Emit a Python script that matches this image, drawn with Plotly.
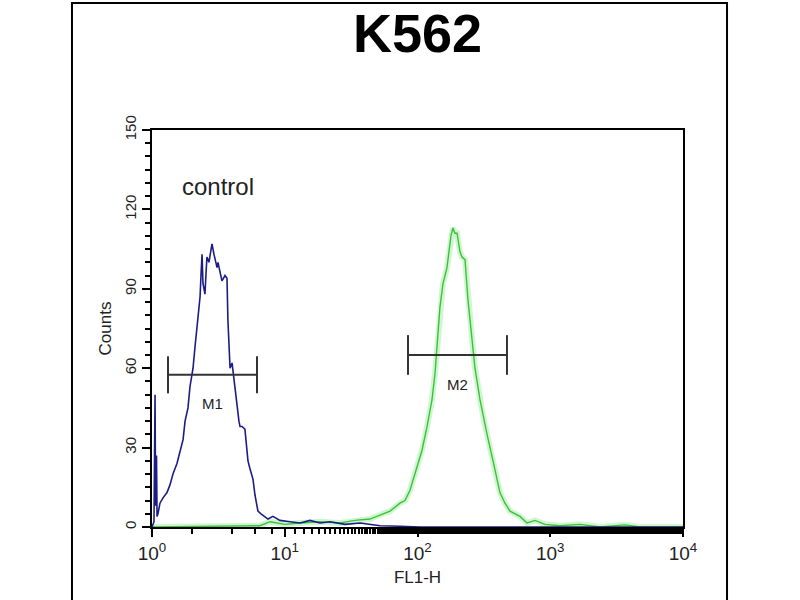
import numpy as np
import plotly.graph_objects as go

# ---- data (log10 of FL1-H channel, counts) ----
blue_log_fl1 = [0.0, 0.015, 0.023, 0.027, 0.030, 0.034, 0.038, 0.045, 0.060, 0.083, 0.113, 0.136, 0.158,
                0.188, 0.211, 0.234, 0.249, 0.271, 0.286, 0.309, 0.324, 0.339, 0.347, 0.362,
                0.369, 0.377, 0.384, 0.399, 0.407, 0.414, 0.429, 0.444, 0.452, 0.467, 0.475,
                0.490, 0.497, 0.512, 0.527, 0.550, 0.565, 0.572, 0.580, 0.588, 0.603, 0.610,
                0.625, 0.640, 0.655, 0.663, 0.678, 0.700, 0.708, 0.723, 0.738, 0.761, 0.776,
                0.798, 0.821, 0.836, 0.874, 0.911, 0.964, 1.040, 1.115, 1.190, 1.266, 1.341,
                1.454, 1.567, 1.718, 1.868, 2.02, 4.0]
blue_counts = [0, 2, 50, 8, 20, 27, 4, 5, 9, 11, 13, 16, 20,
               24, 28, 33, 40, 45, 53, 60, 68, 75, 81, 87,
               95, 103, 92, 88, 96, 102, 100, 105, 107, 103, 101,
               98, 100, 96, 93, 95, 94, 78, 70, 60, 62, 59,
               52, 45, 40, 38, 38, 37, 32, 25, 22, 18, 12,
               6, 5, 4.5, 3, 4, 2.5, 2, 1.5, 2.5, 1.5, 2,
               1, 1.5, 0.5, 0.3, 0, 0]

green_log_fl1 = [0.0, 0.814, 0.889, 1.002, 1.115, 1.266, 1.416, 1.529, 1.642, 1.740, 1.793,
                 1.868, 1.906, 1.944, 1.974, 1.996, 2.034, 2.072, 2.109, 2.132, 2.147, 2.169,
                 2.192, 2.222, 2.237, 2.252, 2.267, 2.282, 2.298, 2.320, 2.335, 2.358, 2.380,
                 2.411, 2.433, 2.471, 2.501, 2.524, 2.569, 2.621, 2.659, 2.697, 2.772, 2.825,
                 2.885, 2.960, 3.073, 3.224, 3.375, 3.563, 3.676, 4.0]
green_counts = [0, 0.5, 2, 1, 1.5, 2, 1.5, 2.5, 3, 5, 6,
                9, 10, 14, 19, 23, 29, 38, 48, 58, 67, 83,
                92, 98, 104, 110, 113, 111, 111, 104, 102, 101, 86,
                71, 60, 48, 40, 35, 25, 13, 9, 6, 4, 1.5,
                2.5, 1, 0.5, 1, 0, 0.8, 0, 0]

gate_names = ["M1", "M2"]
gate_lo = [1.32, 84.8]
gate_hi = [6.18, 472.0]
gate_level = [57.5, 65.0]
gate_cap = [7.0, 7.5]

y_ticks = [0, 30, 60, 90, 120, 150]
x_ticks = [1, 10, 100, 1000, 10000]
x_ticktext = ["10<sup>0</sup>", "10<sup>1</sup>", "10<sup>2</sup>", "10<sup>3</sup>", "10<sup>4</sup>"]

blue_x = [10 ** v for v in blue_log_fl1]
green_x = [10 ** v for v in green_log_fl1]

FONT = "Liberation Sans, Arial, sans-serif"

fig = go.Figure()

# green glow + line
fig.add_trace(go.Scatter(x=green_x, y=green_counts, mode="lines",
                         line=dict(color="rgba(150,235,150,0.45)", width=6),
                         hoverinfo="skip", showlegend=False))
fig.add_trace(go.Scatter(x=green_x, y=green_counts, mode="lines",
                         line=dict(color="#3cc03c", width=1.4), showlegend=False))
# blue control
fig.add_trace(go.Scatter(x=blue_x, y=blue_counts, mode="lines",
                         line=dict(color="#1c1c86", width=1.6), showlegend=False))

# gates
for name, lo, hi, lvl, cap in zip(gate_names, gate_lo, gate_hi, gate_level, gate_cap):
    fig.add_trace(go.Scatter(
        x=[lo, lo, None, lo, hi, None, hi, hi],
        y=[lvl - cap, lvl + cap, None, lvl, lvl, None, lvl - cap, lvl + cap],
        mode="lines", line=dict(color="#333333", width=2), showlegend=False))
    fig.add_annotation(x=(np.log10(lo) + np.log10(hi)) / 2, y=lvl - 11, text=name,
                       showarrow=False, font=dict(family=FONT, size=15, color="#222222"))

fig.add_annotation(x=np.log10(3.15), y=128.5, text="control", showarrow=False,
                   font=dict(family=FONT, size=24, color="#222222"))

# outer frame
fig.add_shape(type="rect", xref="paper", yref="paper", x0=-0.1507, x1=1.0829, y0=-0.25, y1=1.320,
              line=dict(color="black", width=2), layer="below")

fig.update_layout(
    width=800, height=600,
    margin=dict(l=152, r=117, t=130, b=73),
    paper_bgcolor="white", plot_bgcolor="white",
    title=dict(text="<b>K562</b>", x=0.5, xref="paper", xanchor="center", y=1 - 33 / 600, yanchor="middle",
               font=dict(family=FONT, size=54, color="black")),
    xaxis=dict(type="log", range=[0, 4], tickvals=x_ticks, ticktext=x_ticktext,
               ticks="outside", ticklen=8, tickwidth=2, tickcolor="black",
               minor=dict(ticks="outside", ticklen=5, tickwidth=2, tickcolor="black", showgrid=False),
               showline=True, linecolor="black", linewidth=2, mirror=True, showgrid=False, zeroline=False,
               tickfont=dict(family=FONT, size=19, color="#222222"),
               title=dict(text="FL1-H", font=dict(family=FONT, size=17, color="#222222"),
                          standoff=8)),
    yaxis=dict(range=[0, 150], tickvals=y_ticks, tickangle=-90,
               ticks="outside", ticklen=8, tickwidth=2, tickcolor="black",
               minor=dict(dtick=5, ticks="outside", ticklen=5, tickwidth=2, tickcolor="black", showgrid=False),
               showline=True, linecolor="black", linewidth=2, mirror=True, showgrid=False, zeroline=False,
               tickfont=dict(family=FONT, size=15, color="#222222"),
               title=dict(text="Counts", font=dict(family=FONT, size=17, color="#222222"),
                          standoff=6)),
)

fig.write_html("out.html", config={"displayModeBar": False},
               post_script="document.body.style.margin='0px';")
